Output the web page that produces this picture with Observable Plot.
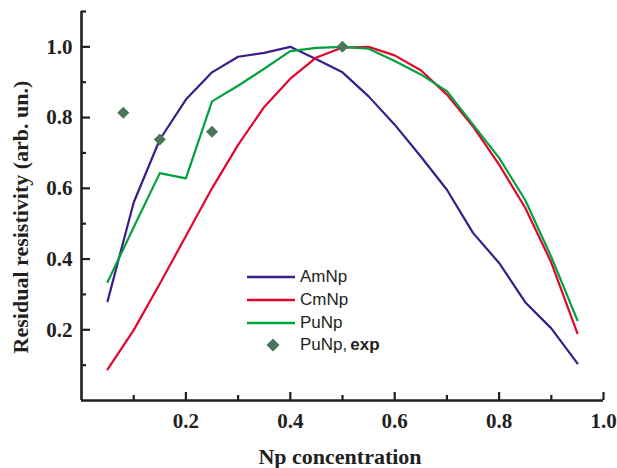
<!DOCTYPE html>
<html>
<head>
<meta charset="utf-8">
<script src="https://cdn.jsdelivr.net/npm/d3@7"></script>
<script src="https://cdn.jsdelivr.net/npm/@observablehq/plot@0.6"></script>
<style>
  html, body { margin: 0; padding: 0; background: #fff; }
  #wrap { position: relative; width: 617px; height: 468px; }
  .ttl { position: absolute; font-family: "Liberation Serif", "Times New Roman", serif; font-weight: bold; font-size: 22px; color: #231f20; white-space: nowrap; }
  #legend { position: absolute; left: 247px; top: 266px; font-family: "Liberation Sans", Arial, sans-serif; font-size: 17px; color: #231f20; }
  #legend .row { display: flex; align-items: center; height: 22.7px; }
  #legend svg { margin-right: 5px; }
</style>
</head>
<body>
<div id="wrap"></div>
<script>
// Data
const conc = [0.05, 0.10, 0.15, 0.20, 0.25, 0.30, 0.35, 0.40, 0.45, 0.50, 0.55, 0.60, 0.65, 0.70, 0.75, 0.80, 0.85, 0.90, 0.95];
const amNp = [0.281, 0.56, 0.738, 0.851, 0.928, 0.972, 0.983, 1.0, 0.965, 0.928, 0.86, 0.78, 0.69, 0.596, 0.474, 0.389, 0.278, 0.204, 0.105];
const cmNp = [0.088, 0.199, 0.33, 0.465, 0.60, 0.723, 0.83, 0.91, 0.97, 0.998, 1.0, 0.976, 0.934, 0.865, 0.775, 0.667, 0.545, 0.39, 0.19];
const puNp = [0.335, 0.49, 0.643, 0.628, 0.846, 0.89, 0.938, 0.988, 0.997, 1.0, 0.995, 0.96, 0.922, 0.875, 0.78, 0.686, 0.567, 0.406, 0.227];
const expX = [0.08, 0.15, 0.25, 0.50];
const expY = [0.814, 0.738, 0.76, 1.0];

const xMajor = [0.2, 0.4, 0.6, 0.8, 1.0];
const xMinor = [0.1, 0.3, 0.5, 0.7, 0.9];
const yMajor = [0.2, 0.4, 0.6, 0.8, 1.0];
const yMinor = [0.1, 0.3, 0.5, 0.7, 0.9, 1.1];

const seriesNames = ["AmNp", "CmNp", "PuNp"];
const seriesColors = ["#3a1d8a", "#e2062c", "#00a23e"];
const expName = "PuNp,";
const expBold = "exp";
const expColor = "#4b7558";

const seriesValues = [amNp, cmNp, puNp];
const lines = seriesNames.map((name, i) => conc.map((x, j) => ({x, y: seriesValues[i][j], name})));
const expData = expX.map((x, i) => ({x, y: expY[i]}));

const serif = "'Liberation Serif', 'Times New Roman', serif";
const ink = "#231f20";

const chart = Plot.plot({
  width: 617,
  height: 468,
  marginLeft: 81,
  marginRight: 14,
  marginTop: 11,
  marginBottom: 68,
  x: {domain: [0, 1.0]},
  y: {domain: [0, 1.1]},
  style: {background: "white", color: ink},
  marks: [
    ...lines.map((d, i) => Plot.line(d, {x: "x", y: "y", stroke: seriesColors[i], strokeWidth: 2.2})),
    Plot.dot(expData, {x: "x", y: "y", symbol: "diamond2", r: 5.4, fill: expColor, stroke: "none"}),
    // axis lines
    Plot.ruleY([0], {stroke: ink, strokeWidth: 2.6}),
    Plot.ruleX([0], {y1: 0, y2: 1.1, stroke: ink, strokeWidth: 2.6}),
    // ticks (inward)
    Plot.axisX({ticks: xMajor, tickSize: -8, tickFormat: () => "", label: null, strokeWidth: 2.2, stroke: ink}),
    Plot.axisX({ticks: xMinor, tickSize: -5, tickFormat: () => "", label: null, strokeWidth: 2.2, stroke: ink}),
    Plot.axisY({ticks: yMajor, tickSize: -9, tickFormat: () => "", label: null, strokeWidth: 2.2, stroke: ink}),
    Plot.axisY({ticks: yMinor, tickSize: -5, tickFormat: () => "", label: null, strokeWidth: 2.2, stroke: ink}),
    // tick labels
    Plot.text(xMajor, {x: d => d, frameAnchor: "bottom", dy: 21, text: d => d.toFixed(1), fontFamily: serif, fontWeight: "bold", fontSize: 21, fill: ink, lineAnchor: "middle"}),
    Plot.text(yMajor, {y: d => d, frameAnchor: "left", dx: -9, text: d => d.toFixed(1), fontFamily: serif, fontWeight: "bold", fontSize: 21, fill: ink, textAnchor: "end"})
  ]
});

const wrap = document.getElementById("wrap");
wrap.appendChild(chart);

// axis titles
const xt = document.createElement("div");
xt.className = "ttl";
xt.textContent = "Np concentration";
xt.style.left = "340px"; xt.style.top = "457px";
xt.style.transform = "translate(-50%, -50%)";
wrap.appendChild(xt);

const yt = document.createElement("div");
yt.className = "ttl";
yt.textContent = "Residual resistivity (arb. un.)";
yt.style.left = "21px"; yt.style.top = "217px";
yt.style.transform = "translate(-50%, -50%) rotate(-90deg)";
wrap.appendChild(yt);

// legend
const leg = document.createElement("div");
leg.id = "legend";
seriesNames.forEach((name, i) => {
  const row = document.createElement("div");
  row.className = "row";
  row.innerHTML = `<svg width="48" height="6"><line x1="0" x2="48" y1="3" y2="3" stroke="${seriesColors[i]}" stroke-width="2.4"/></svg><span>${name}</span>`;
  leg.appendChild(row);
});
const row = document.createElement("div");
row.className = "row";
row.innerHTML = `<svg width="48" height="14"><path d="M26,0.5 L32.5,7 L26,13.5 L19.5,7 Z" fill="${expColor}"/></svg><span>${expName}<b style="margin-left:3px">${expBold}</b></span>`;
leg.appendChild(row);
wrap.appendChild(leg);
</script>
</body>
</html>
